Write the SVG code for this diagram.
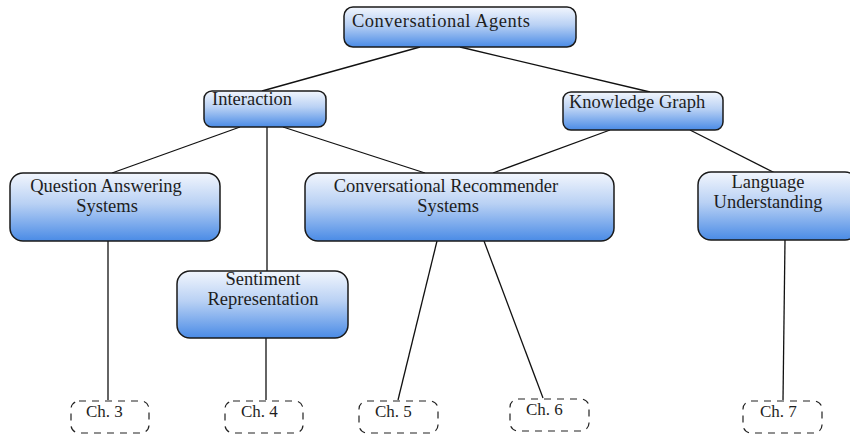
<svg xmlns="http://www.w3.org/2000/svg" width="850" height="439" viewBox="0 0 850 439">
  <defs>
    <linearGradient id="boxFill" x1="0" y1="0" x2="0" y2="1">
      <stop offset="0" stop-color="#f2f6fd"/>
      <stop offset="0.45" stop-color="#b9d1f4"/>
      <stop offset="1" stop-color="#4a8be6"/>
    </linearGradient>
  </defs>
  <style>
    .box { fill: url(#boxFill); stroke: #1a1a1a; stroke-width: 1.5; }
    .ch { fill: none; stroke: #222; stroke-width: 1.2; stroke-dasharray: 7 6; }
    text { font-family: 'Liberation Serif', 'Times New Roman', serif; font-size: 18.5px; fill: #1e1e1e; }
    .mid { text-anchor: middle; }
    .chl { font-size: 17px; }
    .edge { stroke: #111; stroke-width: 1.3; fill: none; }
  </style>

  <!-- connectors -->
  <g id="connectors">
    <line class="edge" x1="420" y1="47" x2="262" y2="91"/>
    <line class="edge" x1="460" y1="47" x2="650" y2="92"/>
    <line class="edge" x1="240" y1="127" x2="112" y2="173"/>
    <line class="edge" x1="267" y1="127" x2="267" y2="271"/>
    <line class="edge" x1="283" y1="127" x2="425" y2="173"/>
    <line class="edge" x1="610" y1="130" x2="493" y2="173"/>
    <line class="edge" x1="690" y1="130" x2="775" y2="173"/>
    <line class="edge" x1="108" y1="241" x2="108" y2="400"/>
    <line class="edge" x1="266" y1="338" x2="266" y2="400"/>
    <line class="edge" x1="437" y1="241" x2="398" y2="400"/>
    <line class="edge" x1="484" y1="241" x2="543" y2="398"/>
    <line class="edge" x1="785" y1="240" x2="783" y2="400"/>
  </g>

  <g id="conversational-agents">
    <rect class="box" x="344" y="7" width="232" height="40" rx="9"/>
    <text x="352" y="27" letter-spacing="0.5">Conversational Agents</text>
  </g>

  <g id="interaction">
    <rect class="box" x="204" y="91" width="122" height="36" rx="8"/>
    <text x="212" y="105">Interaction</text>
  </g>

  <g id="knowledge-graph">
    <rect class="box" x="563" y="92" width="160" height="38" rx="8"/>
    <text x="569" y="108">Knowledge Graph</text>
  </g>

  <g id="question-answering">
    <rect class="box" x="10" y="173" width="210" height="68" rx="13"/>
    <text class="mid" x="106" y="192">Question Answering</text>
    <text class="mid" x="107" y="212">Systems</text>
  </g>

  <g id="recommender-systems">
    <rect class="box" x="305" y="173" width="309" height="68" rx="13"/>
    <text class="mid" x="446" y="192">Conversational Recommender</text>
    <text class="mid" x="448" y="212">Systems</text>
  </g>

  <g id="language-understanding">
    <rect class="box" x="698" y="172" width="160" height="68" rx="13"/>
    <text class="mid" x="768" y="188">Language</text>
    <text class="mid" x="768" y="208">Understanding</text>
  </g>

  <g id="sentiment-representation">
    <rect class="box" x="177" y="271" width="171" height="67" rx="13"/>
    <text class="mid" x="263" y="285">Sentiment</text>
    <text class="mid" x="263" y="305">Representation</text>
  </g>

  <g id="ch3">
    <rect class="ch" x="71" y="401" width="78" height="32" rx="8"/>
    <text class="chl" x="86" y="417">Ch. 3</text>
  </g>
  <g id="ch4">
    <rect class="ch" x="225" y="401" width="78" height="32" rx="8"/>
    <text class="chl" x="241" y="417">Ch. 4</text>
  </g>
  <g id="ch5">
    <rect class="ch" x="359" y="401" width="79" height="32" rx="8"/>
    <text class="chl" x="375" y="417">Ch. 5</text>
  </g>
  <g id="ch6">
    <rect class="ch" x="510" y="399" width="79" height="32" rx="8"/>
    <text class="chl" x="526" y="415">Ch. 6</text>
  </g>
  <g id="ch7">
    <rect class="ch" x="743" y="401" width="79" height="32" rx="8"/>
    <text class="chl" x="760" y="417">Ch. 7</text>
  </g>
</svg>
